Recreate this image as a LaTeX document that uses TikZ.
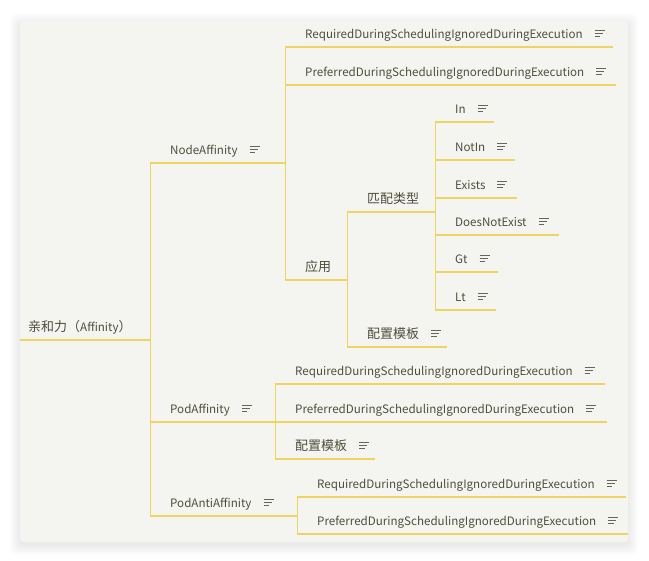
\documentclass[tikz,border=0pt]{standalone}
\usepackage{fontspec}
\setmainfont{Noto Sans CJK SC}
\definecolor{mmline}{HTML}{F0D462}
\definecolor{mmtext}{HTML}{4F4E3C}
\definecolor{mmicon}{HTML}{666556}
\definecolor{mmcard}{HTML}{F4F4F1}
\newcommand{\itemfont}{\fontsize{11.6}{13}\selectfont}
\newcommand{\cjk}[1]{{\fontsize{13}{14}\selectfont #1}}
\newcommand{\noteicon}{\hspace{12pt}\textcolor{mmicon}{\raisebox{0.8pt}{\vbox{%
  \hrule width 10pt height 1.3pt \vskip 2pt
  \hrule width 8pt height 1.3pt \vskip 2pt
  \hrule width 5.5pt height 1.3pt}}}}

\begin{document}
\begin{tikzpicture}[
    x=1pt, y=-1pt,
    base/.style={anchor=south west, inner xsep=0pt, inner ysep=5.5pt,
                 align=left, text height=9pt, text depth=3pt,
                 font=\itemfont, text=mmtext},
    item/.style={base, text width=#1, execute at begin node={\hspace*{20pt}}},
    rootitem/.style={base, text width=130pt, execute at begin node={\hspace*{8pt}}},
    branch/.style={draw=mmline, line width=1.4pt}
  ]

  % ---- Page and card ----
  \fill[white] (0,0) rectangle (649,561);
  \useasboundingbox (0,0) rectangle (649,561);
  \foreach \s in {1,...,10}
    \fill[black, opacity=0.006, rounded corners=6pt]
      (20-\s,24-\s) rectangle (628+\s,545+\s);
  \fill[mmcard, rounded corners=4pt] (20,21) rectangle (628,542);

  % ---- Root ----
  \node[rootitem] (root) at (20,340) {\cjk{亲和力（}Affinity\cjk{）}};

  % ---- NodeAffinity ----
  \node[item=135pt] (na) at (150,163) {NodeAffinity\noteicon};
  \node[item=328pt] (nreq) at (285,47)
    {RequiredDuringSchedulingIgnoredDuringExecution\noteicon};
  \node[item=331pt] (npref) at (285,85)
    {PreferredDuringSchedulingIgnoredDuringExecution\noteicon};
  \node[item=62pt] (use) at (285,280) {\cjk{应用}};
  \node[item=88pt] (match) at (347,212) {\cjk{匹配类型}};
  \node[item=59pt] (in) at (435,122) {In\noteicon};
  \node[item=80pt] (notin) at (435,160) {NotIn\noteicon};
  \node[item=82pt] (exists) at (435,198) {Exists\noteicon};
  \node[item=124pt] (dne) at (435,235) {DoesNotExist\noteicon};
  \node[item=63pt] (gt) at (435,272) {Gt\noteicon};
  \node[item=61pt] (lt) at (435,310) {Lt\noteicon};
  \node[item=100pt] (ntpl) at (347,347) {\cjk{配置模板}\noteicon};

  % ---- PodAffinity ----
  \node[item=125pt] (pa) at (150,422) {PodAffinity\noteicon};
  \node[item=330pt] (preq) at (275,384)
    {RequiredDuringSchedulingIgnoredDuringExecution\noteicon};
  \node[item=332pt] (ppref) at (275,422)
    {PreferredDuringSchedulingIgnoredDuringExecution\noteicon};
  \node[item=100pt] (ptpl) at (275,459) {\cjk{配置模板}\noteicon};

  % ---- PodAntiAffinity ----
  \node[item=147pt] (paa) at (150,516) {PodAntiAffinity\noteicon};
  \node[item=329pt] (areq) at (297,497)
    {RequiredDuringSchedulingIgnoredDuringExecution\noteicon};
  \node[item=331pt] (apref) at (297,534)
    {PreferredDuringSchedulingIgnoredDuringExecution\noteicon};

  % ---- Branches ----
  \draw[branch] (root.south west) -- (root.south east);
  \foreach \c in {na,pa,paa}
    \draw[branch] (root.south east) |- (\c.south east);
  \foreach \c in {nreq,npref,use}
    \draw[branch] (na.south east) |- (\c.south east);
  \foreach \c in {match,ntpl}
    \draw[branch] (use.south east) |- (\c.south east);
  \foreach \c in {in,notin,exists,dne,gt,lt}
    \draw[branch] (match.south east) |- (\c.south east);
  \foreach \c in {preq,ppref,ptpl}
    \draw[branch] (pa.south east) |- (\c.south east);
  \foreach \c in {areq,apref}
    \draw[branch] (paa.south east) |- (\c.south east);

\end{tikzpicture}
\end{document}
